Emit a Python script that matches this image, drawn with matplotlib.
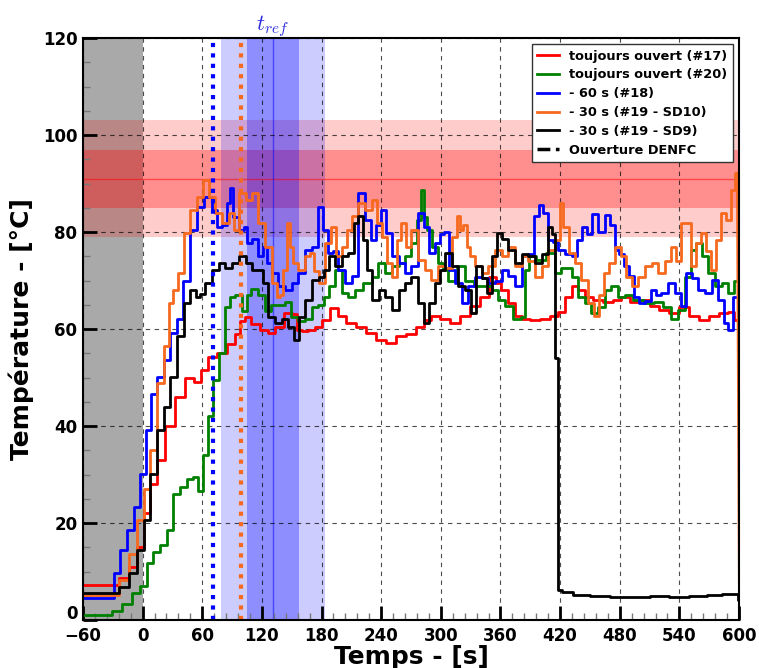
import matplotlib
matplotlib.use("Agg")
import matplotlib.pyplot as plt
from matplotlib.lines import Line2D
from matplotlib.ticker import MultipleLocator, FuncFormatter

# ---------------- data ----------------
t_red = [-60, -29, -19, -9, -2, 4, 11, 18, 28, 38,
         48, 55, 62, 70, 80, 90, 96, 100, 106, 113,
         123, 130, 137, 147, 153, 157, 163, 170, 177, 184,
         194, 200, 210, 220, 230, 240, 250, 260, 270, 280,
         287, 294, 304, 314, 324, 334, 344, 353, 358, 364,
         371, 378, 385, 395, 405, 415, 421, 428, 435, 442,
         448, 458, 468, 478, 485, 495, 505, 515, 525, 535,
         545, 555, 565, 575, 585, 592, 597, 600]
v_red = [7.2, 7.2, 8.6, 11, 15, 22, 28, 33, 40, 46,
         50, 49, 51.5, 54.3, 55, 57, 59, 61.6, 62.4, 61,
         59.8, 59.2, 60.5, 63.3, 63, 59.8, 59.5, 59.8, 60.5, 61.9,
         64.3, 62.6, 61.2, 60.5, 59.2, 57.8, 57.1, 58.5, 59, 60.5,
         61.9, 62.6, 62, 61.2, 62.6, 64.7, 66.7, 70.8, 69.5, 68,
         65.3, 62.6, 62, 61.8, 62, 62.6, 63.5, 66.7, 68.8, 68,
         66.7, 66, 65.5, 66, 66.7, 65.5, 66, 64.7, 64, 63.3,
         64.5, 62.6, 61.9, 62.6, 63.3, 63.5, 61.9, 61.5]

t_green = [-60, -36, -26, -16, -6, 1, 7, 14, 21, 28,
           34, 41, 48, 53, 58, 64, 68, 74, 80, 86,
           90, 96, 103, 106, 113, 120, 126, 133, 140, 146,
           153, 160, 167, 173, 180, 184, 190, 197, 204, 210,
           217, 227, 234, 240, 247, 254, 261, 267, 274, 279,
           282, 284, 289, 294, 301, 304, 311, 321, 328, 338,
           348, 354, 361, 368, 378, 383, 386, 391, 401, 411,
           418, 423, 428, 435, 442, 448, 455, 462, 468, 475,
           482, 488, 499, 509, 519, 529, 535, 542, 549, 555,
           559, 566, 572, 579, 586, 592, 597, 600]
v_green = [1, 1, 1.8, 3.4, 5.5, 7, 11.7, 14, 15.5, 18.6,
           26, 27.5, 29, 29.5, 26.5, 34, 42, 49.5, 55, 64.6,
           66.5, 67, 63.7, 67, 68.3, 67, 63.7, 65, 65, 65.5,
           62.4, 61.6, 62, 64.6, 65, 66.7, 68.8, 72.2, 67.5, 66.7,
           68, 69.4, 70.8, 73.6, 71.5, 72.9, 73.6, 75, 77.7, 82.5,
           88.7, 83, 80.4, 77, 73.6, 72.2, 70, 72.9, 70, 68.8,
           68.8, 68, 66, 64.7, 62, 62.5, 72.2, 75, 74.3, 75.6,
           71.5, 72.5, 72.5, 70.8, 66.7, 65.3, 63.3, 64.6, 68, 68.8,
           66.7, 67, 66, 65.3, 65.6, 64.6, 62, 64, 70.8, 76.3,
           77.7, 75, 71.5, 68.8, 69.4, 67.4, 70, 70.6]

t_blue = [-60, -32, -26, -19, -12, -6, 1, 6, 11, 18,
          24, 31, 38, 44, 51, 58, 66, 73, 76, 83,
          86, 89, 93, 100, 103, 107, 113, 120, 123, 127,
          133, 140, 147, 153, 160, 167, 174, 179, 184, 189,
          194, 200, 207, 214, 220, 227, 232, 237, 242, 247,
          254, 261, 267, 274, 281, 286, 291, 297, 301, 306,
          311, 318, 324, 331, 338, 344, 351, 358, 365, 371,
          378, 385, 391, 396, 401, 405, 410, 415, 421, 428,
          435, 440, 445, 450, 455, 462, 468, 473, 477, 482,
          487, 492, 497, 502, 509, 514, 519, 525, 532, 539,
          544, 549, 556, 562, 569, 576, 582, 587, 591, 596,
          600]
v_blue = [4.5, 4.5, 9.6, 14.4, 18.6, 23.4, 30.2, 39.2, 46.7, 50.2,
          53.6, 59.2, 62, 70, 80.4, 85.2, 87.3, 84.6, 81.1, 81.5,
          86, 89, 83, 80.4, 81, 77.7, 78.5, 75, 77, 73.6,
          71.5, 68.8, 68, 69.4, 71.5, 76.3, 77, 85.2, 80.4, 75.6,
          76, 72.2, 69.4, 71, 88, 82.5, 78.4, 81.5, 84.6, 79.7,
          75, 73.6, 71.5, 72.9, 83.9, 81.1, 75.6, 77.7, 79.5, 80,
          72.2, 69.4, 65.3, 68.8, 70.8, 70.5, 69.5, 69.8, 72.2, 71,
          68.8, 75, 75.5, 83.2, 85.6, 84, 78.3, 78, 76.3, 75.5,
          75, 78.3, 81.1, 79.5, 83.8, 80, 83.5, 81.5, 76.3, 75.5,
          72.9, 71, 66.7, 65.3, 65.8, 68, 67, 67.5, 69.4, 67.5,
          64.7, 71.5, 70.5, 68, 67.5, 70.1, 66, 61.2, 59.8, 66.7,
          66.5]

t_orange = [-60, -29, -19, -9, -2, 4, 11, 18, 24, 29,
            33, 38, 45, 51, 58, 64, 70, 76, 83, 90,
            93, 100, 107, 113, 120, 127, 133, 137, 140, 143,
            147, 150, 153, 160, 167, 170, 175, 180, 187, 192,
            197, 204, 207, 214, 220, 227, 234, 237, 244, 247,
            254, 257, 262, 267, 274, 281, 287, 294, 301, 308,
            314, 318, 321, 324, 328, 331, 338, 344, 351, 358,
            365, 371, 378, 385, 391, 398, 405, 411, 418, 421,
            425, 432, 438, 445, 452, 457, 462, 467, 472, 479,
            484, 489, 495, 502, 509, 515, 522, 529, 534, 539,
            544, 549, 554, 559, 564, 569, 574, 579, 584, 589,
            594, 598, 600]
v_orange = [5.1, 5.1, 8.2, 13.7, 20.6, 27, 35, 48.8, 56.4, 65.3,
            68, 71.5, 79.7, 84.6, 87.3, 90.8, 87.3, 83.9, 81.8, 84,
            80.5, 88, 86.6, 88, 81.8, 77, 69.4, 66.7, 67, 72.2,
            81.8, 77, 73.6, 72.2, 75, 75.6, 72, 69.4, 77.7, 81.1,
            75, 77, 80.4, 83.2, 86, 84.5, 86.6, 81.8, 79, 73.6,
            70.8, 78.4, 81.8, 77, 80.4, 74.3, 72.2, 70.1, 72.9, 72.5,
            79, 83.2, 80.5, 81.5, 77, 75, 72.9, 71.5, 72.9, 76.3,
            75, 77, 72.9, 75, 74, 70.8, 72.9, 76.3, 78.3, 86,
            81.1, 75.6, 73.6, 70.1, 65.3, 62.6, 67, 71.5, 73.6, 77,
            75, 70.8, 68.8, 70.8, 72.9, 73.6, 71.5, 74, 77, 74,
            81.8, 81.8, 72.9, 77.7, 79.7, 76, 72.2, 78.3, 83.9, 82.5,
            88.7, 92.2, 7.6]

t_black = [-60, -29, -19, -9, -2, 4, 11, 18, 24, 31,
           38, 45, 51, 56, 60, 66, 73, 80, 86, 93,
           100, 107, 113, 120, 123, 130, 137, 143, 150, 155,
           160, 167, 174, 180, 184, 190, 197, 204, 210, 215,
           219, 224, 227, 234, 241, 247, 254, 261, 267, 274,
           281, 286, 291, 297, 301, 308, 314, 321, 328, 333,
           338, 344, 349, 354, 359, 365, 371, 378, 385, 391,
           398, 405, 410, 413, 416, 419, 425, 440, 460, 480,
           500, 520, 540, 560, 575, 590, 597, 600]
v_black = [5.6, 5.6, 6.9, 9.6, 14.4, 20.6, 30.2, 39.2, 44, 50.2,
           58.5, 65.3, 68, 66.7, 67.3, 69.4, 72.2, 73.6, 72.5, 73.6,
           75, 73.6, 72.2, 72.2, 69.4, 62.5, 61.2, 62, 60.5, 57.8,
           62.5, 66, 70.1, 70.8, 72.2, 75, 72.9, 75, 75.6, 81.8,
           83.2, 78.4, 72.2, 66, 68, 66.7, 63.9, 68, 69.4, 70.8,
           65.3, 61.2, 65.3, 69.4, 72.2, 75.6, 73, 68.8, 68, 63.3,
           72.9, 70.5, 67.4, 75, 79.7, 78.5, 76.3, 73.6, 75.5, 75,
           73.6, 75.5, 81.1, 79.5, 54, 6.2, 5.7, 5.1, 4.9, 4.8,
           4.8, 4.9, 4.8, 5.0, 5.2, 5.3, 5.4, 4.2]

labels = ["toujours ouvert (#17)", "toujours ouvert (#20)", "- 60 s (#18)",
          "- 30 s (#19 - SD10)", "- 30 s (#19 - SD9)", "Ouverture DENFC"]

t_open_60 = 70.5      # ouverture DENFC essai -60 s
t_open_30 = 99        # ouverture DENFC essai -30 s
t_ref = 131
t_ref_band1 = 26.5
t_ref_band2 = 52.5
T_ref = 91
T_band1 = 6
T_band2 = 12
t_ignition = 0

# ---------------- figure ----------------
W, H = 759, 668
fig = plt.figure(figsize=(W / 100, H / 100), dpi=100)
ax = fig.add_axes([83 / W, (H - 620) / H, (739 - 83) / W, (620 - 38) / H])

c_red, c_green, c_blue, c_orange, c_black = "#ff0000", "#008000", "#0000ff", "#f7691e", "#000000"

# background regions
ax.axvspan(-60, t_ignition, color="#a9a9a9", zorder=0.5, lw=0)
ax.axhspan(T_ref - T_band2, T_ref + T_band2, color="red", alpha=0.2, lw=0, zorder=0.8)
ax.axhspan(T_ref - T_band1, T_ref + T_band1, color="red", alpha=0.3, lw=0, zorder=0.8)
ax.axhline(T_ref, color="red", lw=1, alpha=0.5, zorder=0.9)
ax.axvspan(t_ref - t_ref_band2, t_ref + t_ref_band2, color="blue", alpha=0.2, lw=0, zorder=0.8)
ax.axvspan(t_ref - t_ref_band1, t_ref + t_ref_band1, color="blue", alpha=0.3, lw=0, zorder=0.8)
ax.axvline(t_ref, color="blue", lw=1, alpha=0.5, zorder=0.9)

lw = 2
ax.plot(t_red, v_red, color=c_red, lw=lw, drawstyle="steps-mid")
ax.plot(t_green, v_green, color=c_green, lw=lw, drawstyle="steps-mid")
ax.plot(t_blue, v_blue, color=c_blue, lw=lw, drawstyle="steps-mid")
ax.plot(t_orange[:-1], v_orange[:-1], color=c_orange, lw=lw, drawstyle="steps-mid")
ax.plot(t_orange[-2:], v_orange[-2:], color=c_orange, lw=1.5)
ax.plot(t_black, v_black, color=c_black, lw=lw, drawstyle="steps-mid")

ax.axvline(t_open_60, color=c_blue, lw=3, linestyle=(0, (1, 1.5)), zorder=2.5)
ax.axvline(t_open_30, color=c_orange, lw=3, linestyle=(0, (1, 1.5)), zorder=2.5)

plt.rcParams["mathtext.fontset"] = "cm"
ax.text(t_ref, 121.7, r"$t_{ref}$", color="#2a2ae0", fontsize=16, ha="center",
        va="baseline", clip_on=False)

ax.set_xlim(-60, 600)
ax.set_ylim(0, 120)
ax.xaxis.set_major_locator(MultipleLocator(60))
ax.xaxis.set_minor_locator(MultipleLocator(12))
ax.yaxis.set_major_locator(MultipleLocator(20))
ax.yaxis.set_minor_locator(MultipleLocator(5))
# the "0" of the y axis is drawn separately, slightly lifted, so it does not run into "-60"
ax.yaxis.set_major_formatter(FuncFormatter(lambda v, p: "" if v == 0 else f"{v:g}"))
ax.annotate("0", xy=(0, 0), xycoords="axes fraction", xytext=(-4, 4),
            textcoords="offset points", ha="right", va="center",
            fontsize=12, fontweight="bold")
ax.grid(True, which="major", linestyle=(0, (4, 4)), color="k", lw=0.8, alpha=0.7)

for s in ax.spines.values():
    s.set_linewidth(1.5)
ax.tick_params(which="major", direction="in", length=10, width=2, labelsize=12, pad=4)
ax.tick_params(axis="x", which="major", pad=5)
ax.tick_params(which="minor", direction="in", length=5, width=1, color="#777777")
for lab in ax.get_xticklabels() + ax.get_yticklabels():
    lab.set_fontweight("bold")

ax.set_xlabel("Temps - [s]", fontsize=18, fontweight="bold", labelpad=0)
ax.set_ylabel("Température - [°C]", fontsize=18, fontweight="bold", labelpad=6)

handles = [Line2D([], [], color=c, lw=2) for c in (c_red, c_green, c_blue, c_orange, c_black)]
handles.append(Line2D([], [], color="k", lw=2.5, linestyle="--"))
leg = ax.legend(handles, labels, loc="upper right", prop={"weight": "bold", "size": 9.3},
                fancybox=False, framealpha=1, edgecolor="#333333", handlelength=1.7,
                labelspacing=0.45, borderaxespad=0.5)
leg.get_frame().set_linewidth(1)
leg.set_zorder(5)

fig.savefig("out.png", dpi=100)
